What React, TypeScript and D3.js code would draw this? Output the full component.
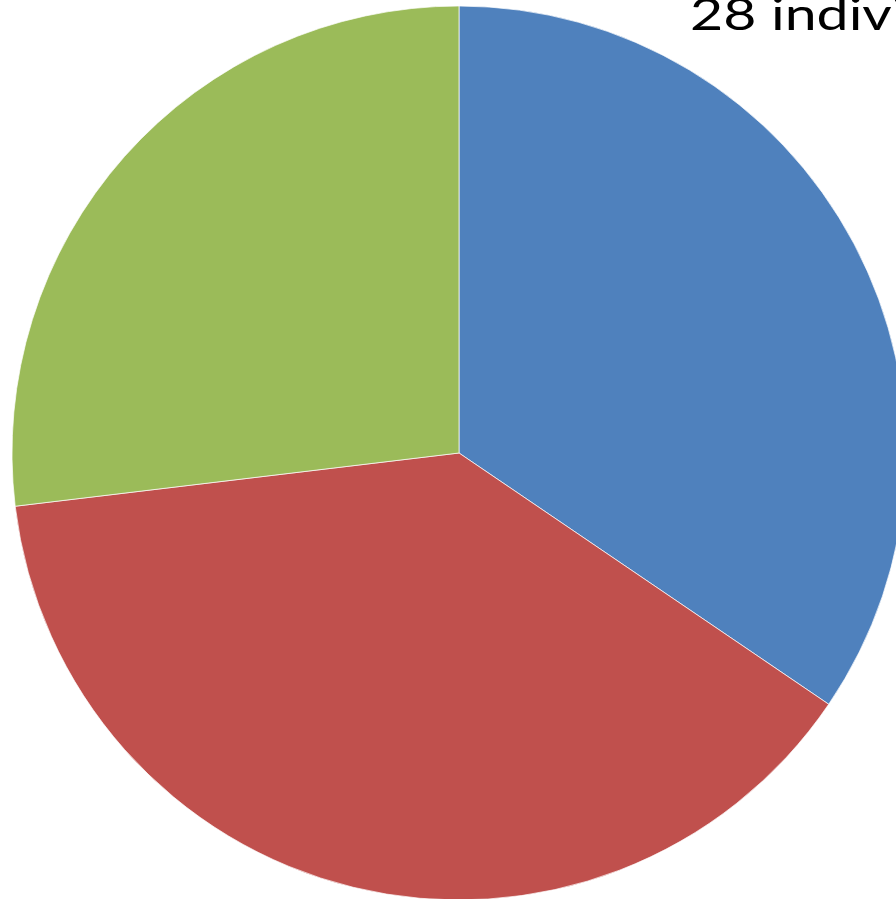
import { useRef, useEffect } from "react";
import * as d3 from "d3";

const labels = ["A", "B", "C"];
const values = [34.5, 38.6, 26.9];
const colors = ["#4f81bd", "#c0504d", "#9bbb59"];
const titleText = "28 individuals";

export default function App() {
  const svgRef = useRef<SVGSVGElement>(null);

  useEffect(() => {
    document.body.style.margin = "0";
    if (!svgRef.current) return;
    const width = 896;
    const height = 899;
    const cx = 459;
    const cy = 453;
    const r = 447;

    const svg = d3.select(svgRef.current);
    svg.selectAll("*").remove();
    svg.attr("width", width).attr("height", height);

    const pie = d3
      .pie<number>()
      .sort(null)
      .value((d) => d);
    const arc = d3.arc<d3.PieArcDatum<number>>().innerRadius(0).outerRadius(r);

    const g = svg.append("g").attr("transform", `translate(${cx},${cy})`);
    g.selectAll("path")
      .data(pie(values))
      .join("path")
      .attr("d", arc)
      .attr("fill", (_, i) => colors[i])
      .attr("stroke", "#ffffff")
      .attr("stroke-width", 0.7)
      .append("title")
      .text((_, i) => labels[i]);

    // Title (runs off the right edge, as in the original; slightly stretched wide)
    svg
      .append("text")
      .attr("transform", "translate(690,30) scale(1.3,1)")
      .attr("fill", "#000")
      .attr("font-size", 44)
      .attr("font-family", "Lato, 'Open Sans', sans-serif")
      .text(titleText);
  }, []);

  return (
    <div style={{ width: 896, height: 899, overflow: "hidden", background: "#fff" }}>
      <svg ref={svgRef} style={{ display: "block" }} />
    </div>
  );
}
